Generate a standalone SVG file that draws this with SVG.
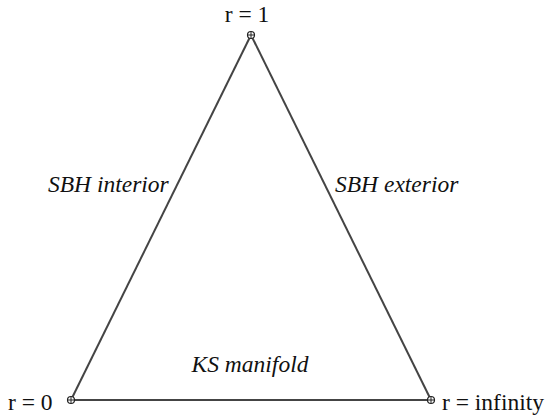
<svg xmlns="http://www.w3.org/2000/svg" width="546" height="416" viewBox="0 0 546 416">
<style>
.lbl{font-family:'Liberation Serif','Times New Roman',serif;font-size:23.5px;fill:#111}
.it{font-style:italic}
.edge{stroke:#444;stroke-width:2;fill:none}
.pt{stroke:#222;stroke-width:1.2;fill:#fff}
.cross{stroke:#222;stroke-width:1}
</style>
<rect width="546" height="416" fill="#fff"/>
<g id="connectors">
<line class="edge" x1="251" y1="35" x2="71" y2="400"/>
<line class="edge" x1="251" y1="35" x2="431" y2="400"/>
<line class="edge" x1="71" y1="400" x2="431" y2="400"/>
</g>
<g id="edge-labels">
<text class="lbl it" x="48" y="192">SBH interior</text>
<text class="lbl it" x="335" y="192">SBH exterior</text>
<text class="lbl it" x="250" y="372" text-anchor="middle">KS manifold</text>
</g>
<g id="node-r1">
<circle class="pt" cx="251" cy="35" r="3.5"/>
<path class="cross" d="M247.5 35H254.5M251 31.5V38.5"/>
<text class="lbl" x="247" y="22" text-anchor="middle">r = 1</text>
</g>
<g id="node-r0">
<circle class="pt" cx="71" cy="400" r="3.5"/>
<path class="cross" d="M67.5 400H74.5M71 396.5V403.5"/>
<text class="lbl" x="8" y="410">r = 0</text>
</g>
<g id="node-rinf">
<circle class="pt" cx="431" cy="400" r="3.5"/>
<path class="cross" d="M427.5 400H434.5M431 396.5V403.5"/>
<text class="lbl" x="442" y="410">r = infinity</text>
</g>
</svg>
